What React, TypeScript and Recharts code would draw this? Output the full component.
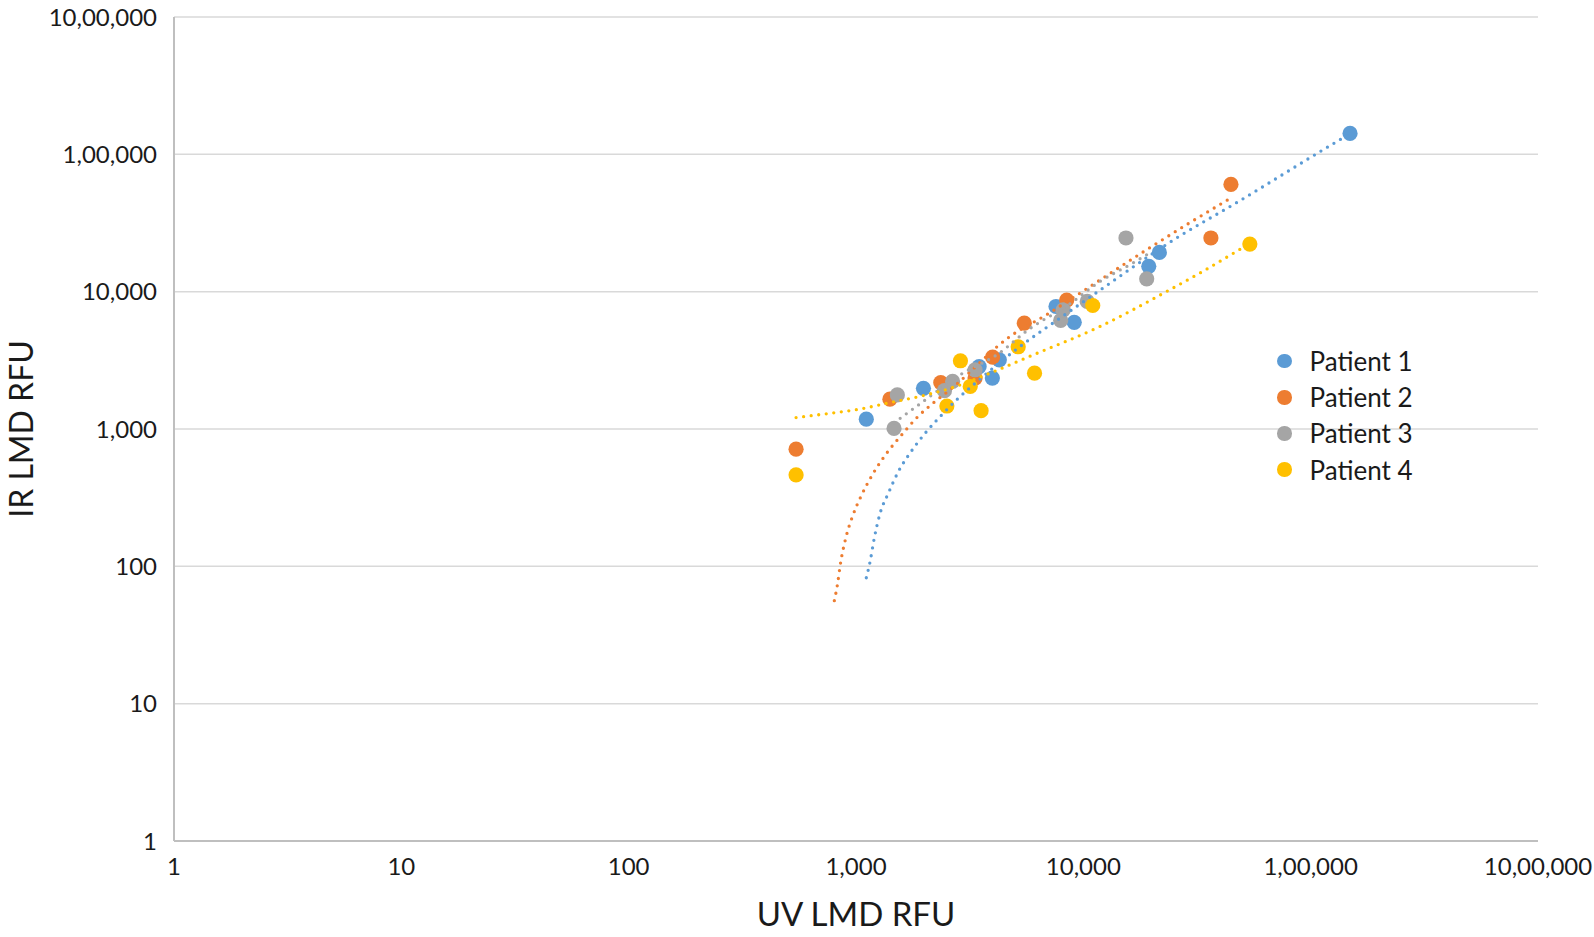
import React from 'react';
import { ScatterChart, Scatter, XAxis, YAxis, CartesianGrid, Label } from 'recharts';

// Axis ticks (log scale) and their labels (Indian digit grouping as in the source)
const AXIS_TICKS = [1, 10, 100, 1000, 10000, 100000, 1000000];
const TICK_LABELS = ['1', '10', '100', '1,000', '10,000', '1,00,000', '10,00,000'];

const SERIES_NAMES = ['Patient 1', 'Patient 2', 'Patient 3', 'Patient 4'];
const SERIES_COLORS = ['#5B9BD5', '#ED7D31', '#A5A5A5', '#FFC000'];

// Measured points: UV LMD RFU (x) vs IR LMD RFU (y)
const P1_UV = [1110, 1980, 3480, 3980, 4270, 7580, 9120, 19400, 21600, 149000];
const P1_IR = [1180, 1980, 2850, 2350, 3190, 7800, 5980, 15300, 19300, 142000];

const P2_UV = [545, 1410, 2360, 3340, 3990, 5500, 8450, 36400, 44600];
const P2_IR = [713, 1650, 2180, 2350, 3340, 5900, 8690, 24600, 60400];

const P3_UV = [1470, 1520, 2450, 2660, 3340, 7950, 8160, 10400, 15400, 19000];
const P3_IR = [1010, 1770, 1900, 2220, 2700, 6170, 7380, 8490, 24600, 12400];

const P4_UV = [545, 2510, 2880, 3180, 3550, 5170, 6100, 11000, 54000];
const P4_IR = [463, 1470, 3140, 2040, 1360, 3970, 2550, 7930, 22200];

// Trendline traces
const T1_UV = [1110, 1153, 1203, 1276, 1387, 1535, 1746, 2025, 2383, 2818, 3371, 5196, 8163, 11440, 25720, 45630, 138950, 149000];
const T1_IR = [82.6, 108, 160, 243, 340, 489, 684, 941, 1267, 1676, 2179, 3919, 6670, 9860, 24600, 42990, 131800, 141000];

const T2_UV = [803, 828, 857, 901, 967, 1059, 1191, 1364, 1588, 1861, 2225, 2589, 4755, 7080, 9183, 18980, 28460, 44600];
const T2_IR = [56.2, 73.1, 108, 160, 233, 331, 476, 666, 906, 1219, 1584, 1928, 4713, 6981, 9230, 20190, 30750, 48100];

const T3_UV = [1470, 1911, 2917, 4225, 5723, 8730, 11830, 16300, 19000];
const T3_IR = [1108, 1524, 2521, 3527, 5277, 8163, 11860, 15970, 18570];

const T4_UV = [545, 751, 1031, 1410, 1926, 2608, 3818, 6025, 11830, 23240, 32580, 51370, 54000];
const T4_IR = [1211, 1295, 1394, 1557, 1734, 1984, 2521, 3467, 5575, 10030, 13670, 21350, 22400];

const zip = (xs: number[], ys: number[]) => xs.map((x, i) => ({ x, y: ys[i] }));

const POINTS = [zip(P1_UV, P1_IR), zip(P2_UV, P2_IR), zip(P3_UV, P3_IR), zip(P4_UV, P4_IR)];
const TRENDS = [zip(T1_UV, T1_IR), zip(T2_UV, T2_IR), zip(T3_UV, T3_IR), zip(T4_UV, T4_IR)];

const FONT = 'Lato, "Noto Sans", sans-serif';
const TEXT_COLOR = '#1a1a1a';

const fmt = (v: number) => {
  const i = AXIS_TICKS.indexOf(v);
  return i >= 0 ? TICK_LABELS[i] : String(v);
};

const EmptyShape = () => <g />;

const makeDot = (color: string) => (props: any) => {
  const { cx, cy } = props;
  if (cx == null || cy == null) return <g />;
  return <circle cx={cx} cy={cy} r={7.6} fill={color} />;
};
const DOT_SHAPES = SERIES_COLORS.map((c) => makeDot(c));

const XTitle = (props: any) => {
  const vb = props.viewBox || {};
  const cx = (vb.x || 0) + (vb.width || 0) / 2;
  return (
    <text x={cx} y={926} textAnchor="middle" fontFamily={FONT} fontSize={33} fill={TEXT_COLOR}>
      UV LMD RFU
    </text>
  );
};

const YTitle = (props: any) => {
  const vb = props.viewBox || {};
  const cy = (vb.y || 0) + (vb.height || 0) / 2;
  return (
    <text
      x={33}
      y={cy}
      textAnchor="middle"
      transform={`rotate(-90, 33, ${cy})`}
      fontFamily={FONT}
      fontSize={32}
      fill={TEXT_COLOR}
    >
      IR LMD RFU
    </text>
  );
};

export default function App() {
  const tickStyle = { fontFamily: FONT, fontSize: 24, fill: TEXT_COLOR };
  return (
    <div style={{ position: 'absolute', left: 0, top: 0, width: 1594, height: 937, background: '#fff' }}>
      <ScatterChart width={1594} height={937} margin={{ top: 17, right: 56, bottom: 36, left: 0 }}>
        <CartesianGrid vertical={false} stroke="#d9d9d9" strokeWidth={1.5} />
        <XAxis
          type="number"
          dataKey="x"
          scale="log"
          domain={[1, 1000000]}
          ticks={AXIS_TICKS}
          tickFormatter={fmt}
          tickLine={false}
          tickSize={6}
          tickMargin={11}
          height={60}
          axisLine={{ stroke: '#bfbfbf', strokeWidth: 2 }}
          tick={tickStyle}
          interval={0}
          allowDataOverflow
        >
          <Label content={<XTitle />} />
        </XAxis>
        <YAxis
          type="number"
          dataKey="y"
          scale="log"
          domain={[1, 1000000]}
          ticks={AXIS_TICKS}
          tickFormatter={fmt}
          tickLine={false}
          tickSize={6}
          tickMargin={11}
          width={174}
          axisLine={{ stroke: '#bfbfbf', strokeWidth: 2 }}
          tick={tickStyle}
          interval={0}
          allowDataOverflow
        >
          <Label content={<YTitle />} />
        </YAxis>
        {POINTS.map((pts, i) => (
          <Scatter
            key={'p' + i}
            name={SERIES_NAMES[i]}
            data={pts}
            fill={SERIES_COLORS[i]}
            shape={DOT_SHAPES[i]}
            isAnimationActive={false}
          />
        ))}
        {TRENDS.map((pts, i) => (
          <Scatter
            key={'t' + i}
            name={SERIES_NAMES[i] + ' trend'}
            data={pts}
            fill={SERIES_COLORS[i]}
            shape={EmptyShape}
            legendType="none"
            line={{
              stroke: SERIES_COLORS[i],
              strokeWidth: 3.3,
              strokeDasharray: '0 7.6',
              strokeLinecap: 'round',
            }}
            lineJointType="monotoneX"
            isAnimationActive={false}
          />
        ))}
      </ScatterChart>
      <div style={{ position: 'absolute', left: 1277, top: 343, fontFamily: FONT, fontSize: 26, color: TEXT_COLOR }}>
        {SERIES_NAMES.map((n, i) => (
          <div key={n} style={{ display: 'flex', alignItems: 'center', height: 36.2 }}>
            <span
              style={{
                display: 'inline-block',
                width: 14.5,
                height: 14.5,
                borderRadius: '50%',
                background: SERIES_COLORS[i],
                marginRight: 18,
              }}
            />
            <span>{n}</span>
          </div>
        ))}
      </div>
    </div>
  );
}
